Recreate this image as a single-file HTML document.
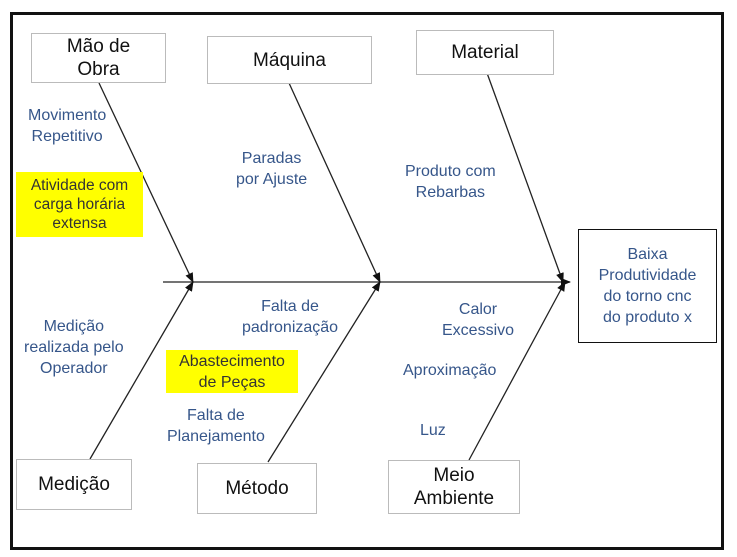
<!DOCTYPE html>
<html><head><style>
body{margin:0;width:737px;height:557px;background:#fff;position:relative;overflow:hidden;font-family:"Liberation Sans",sans-serif}
.b{position:absolute;border:1px solid #bbb;background:#fff;display:flex;align-items:center;justify-content:center;text-align:center;font-size:19px;line-height:23px;color:#111}
.t{position:absolute;color:#36568a;font-size:16px;line-height:21px;text-align:center;white-space:nowrap}
.y{position:absolute;background:#ffff00;color:#333;font-size:15.5px;line-height:19px;text-align:center;display:flex;align-items:center;justify-content:center}
</style></head><body>
<div style="position:absolute;left:10px;top:12px;width:708px;height:532px;border:3px solid #111"></div>
<svg width="737" height="557" style="position:absolute;left:0;top:0">
<defs><marker id="a" markerWidth="10" markerHeight="8" refX="9" refY="4" orient="auto" markerUnits="userSpaceOnUse"><path d="M0,0 L10,4 L0,8z" fill="#111"/></marker></defs>
<g stroke="#222" stroke-width="1.3" fill="none">
<line x1="163" y1="282" x2="570" y2="282" marker-end="url(#a)"/>
<line x1="99" y1="83" x2="193" y2="282" marker-end="url(#a)"/>
<line x1="289" y1="83" x2="380" y2="282" marker-end="url(#a)"/>
<line x1="487" y1="73" x2="563" y2="282" marker-end="url(#a)"/>
<line x1="90" y1="459" x2="193" y2="282" marker-end="url(#a)"/>
<line x1="268" y1="462" x2="380" y2="282" marker-end="url(#a)"/>
<line x1="469" y1="460" x2="565" y2="282" marker-end="url(#a)"/>
</g></svg>
<div class="b" style="left:31px;top:33px;width:133px;height:48px">Mão de<br>Obra</div>
<div class="b" style="left:207px;top:36px;width:163px;height:46px">Máquina</div>
<div class="b" style="left:416px;top:30px;width:136px;height:43px">Material</div>
<div class="b" style="left:16px;top:459px;width:114px;height:49px">Medição</div>
<div class="b" style="left:197px;top:463px;width:118px;height:49px">Método</div>
<div class="b" style="left:388px;top:460px;width:130px;height:52px">Meio<br>Ambiente</div>
<div class="b" style="left:578px;top:229px;width:137px;height:112px;border:1.5px solid #111;color:#36568a;font-size:16px;line-height:21px">Baixa<br>Produtividade<br>do torno cnc<br>do produto x</div>
<div class="t" style="left:28px;top:105px">Movimento<br>Repetitivo</div>
<div class="y" style="left:16px;top:172px;width:127px;height:65px">Atividade com<br>carga horária<br>extensa</div>
<div class="t" style="left:236px;top:148px">Paradas<br>por Ajuste</div>
<div class="t" style="left:405px;top:161px">Produto com<br>Rebarbas</div>
<div class="t" style="left:24px;top:316px">Medição<br>realizada pelo<br>Operador</div>
<div class="t" style="left:242px;top:296px">Falta de<br>padronização</div>
<div class="y" style="left:166px;top:350px;width:132px;height:43px;font-size:16px;line-height:21px">Abastecimento<br>de Peças</div>
<div class="t" style="left:167px;top:405px">Falta de<br>Planejamento</div>
<div class="t" style="left:442px;top:299px">Calor<br>Excessivo</div>
<div class="t" style="left:403px;top:360px">Aproximação</div>
<div class="t" style="left:420px;top:420px">Luz</div>
</body></html>
